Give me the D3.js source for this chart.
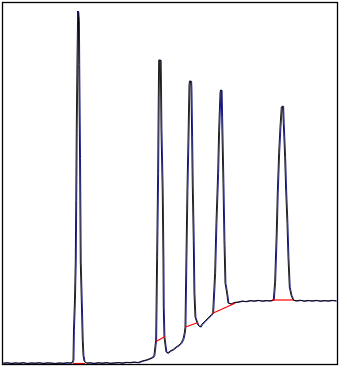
<!DOCTYPE html>
<html>
<head>
<meta charset="utf-8">
<script src="https://cdn.jsdelivr.net/npm/d3@7"></script>
<style>
  body { margin: 0; background: #fff; }
</style>
</head>
<body>
<div class="container"></div>
<script>
const w = 340;
const h = 367;

// detector trace: scan number vs intensity
const scans = [1, 5, 9, 13, 17, 21, 25, 29, 33, 37, 41, 45, 49, 53, 57, 61, 65, 68,
  70, 71, 71.5, 72.5, 73.3, 73.8, 74.3, 75, 75.7, 76.5, 76.8, 77.6, 78.3, 79.3, 80.3, 81, 82, 84,
  88, 92, 96, 100, 104, 108, 112, 116, 120, 124, 128, 132, 136, 140, 144, 148, 151, 152,
  153.7, 154.7, 155.7, 156.3, 156.7, 158.3, 159, 160.3, 161, 161.3, 162, 164, 165.7,
  168, 171, 174, 177, 179, 181, 182.3,
  183, 184, 185, 186, 187, 187.5, 188.7, 189, 189.7, 190.3, 191.3, 192, 193, 194.7, 196, 198,
  200, 203, 206, 209, 210.7,
  212.7, 214, 215.7, 216.7, 218, 218.5, 219.2, 219.7, 221, 222, 223, 224.7, 226, 229, 232,
  236, 240, 244, 248, 252, 256, 260, 264, 268, 271.3,
  272.7, 274.3, 275.3, 276.7, 278, 279.3, 280.7, 281.3, 282.7, 283.7, 285, 286, 287.3, 289, 291,
  294, 298, 302, 306, 310, 314, 318, 322, 326, 330, 334];
const intensity = [4, 8, 2, 7, 3, 9, 1, 6, 4, 8, 2, 7, 5, 1, 6, 3, 8, 5,
  10, 35, 335, 635, 1015, 1635, 2355, 3035, 3525, 3435, 2995, 2055, 1015, 635, 235, 85, 25, 5,
  7, 2, 8, 4, 9, 3, 6, 10, 5, 12, 10, 15, 10, 25, 35, 50, 65, 85,
  235, 1065, 1905, 2665, 3035, 3035, 2355, 1705, 1035, 565, 265, 115, 105,
  125, 140, 165, 185, 205, 245, 305,
  365, 1065, 1735, 2235, 2785, 2825, 2825, 2755, 2265, 1785, 1235, 705, 465, 415, 385, 365,
  395, 425, 455, 485, 505,
  905, 1405, 1905, 2335, 2705, 2735, 2735, 2465, 1805, 1235, 805, 705, 605, 595, 610,
  615, 625, 620, 630, 625, 632, 625, 630, 627, 635,
  815, 1305, 1705, 2105, 2365, 2565, 2575, 2405, 2065, 1735, 1405, 1065, 765, 685, 635,
  627, 633, 625, 631, 626, 632, 625, 630, 626, 632, 627];

// integration baselines under each peak
const peakStart = [71, 154, 183.5, 210.7, 270];
const peakEnd = [83, 163, 196, 233, 291];
const startLevel = [0, 220, 365, 502, 635];
const endLevel = [0, 270, 410, 602, 635];

const svg = d3.select('.container')
              .append('svg')
              .attr('width', w)
              .attr('height', h);

const xScale = d3.scaleLinear().domain([0, 336]).range([2, 338]);
const yScale = d3.scaleLinear().domain([0, 3615]).range([363.5, 2]);

const trace = scans.map((s, i) => [s, intensity[i]]);
const line = d3.line()
               .x(d => xScale(d[0]))
               .y(d => yScale(d[1]));

// fitted trace (blue) sits just under the raw trace
svg.append('path')
   .attr('d', line(trace))
   .attr('transform', 'translate(0.9,0.3)')
   .style('fill', 'none')
   .style('stroke', '#1c1c8a')
   .style('stroke-width', 1);

svg.append('path')
   .attr('d', line(trace))
   .style('fill', 'none')
   .style('stroke', '#000')
   .style('stroke-width', 0.9);

// red baselines
svg.selectAll('line.base')
   .data(peakStart)
   .enter()
   .append('line')
   .attr('class', 'base')
   .attr('x1', (d) => xScale(d))
   .attr('x2', (d, i) => xScale(peakEnd[i]))
   .attr('y1', (d, i) => yScale(startLevel[i]))
   .attr('y2', (d, i) => yScale(endLevel[i]))
   .style('stroke', '#ff0000')
   .style('stroke-width', 1.2);

// frame
svg.append('rect')
   .attr('x', 2.5)
   .attr('y', 2.5)
   .attr('width', 335)
   .attr('height', 362)
   .style('fill', 'none')
   .style('stroke', '#000')
   .style('stroke-width', 1.3);
</script>
</body>
</html>
